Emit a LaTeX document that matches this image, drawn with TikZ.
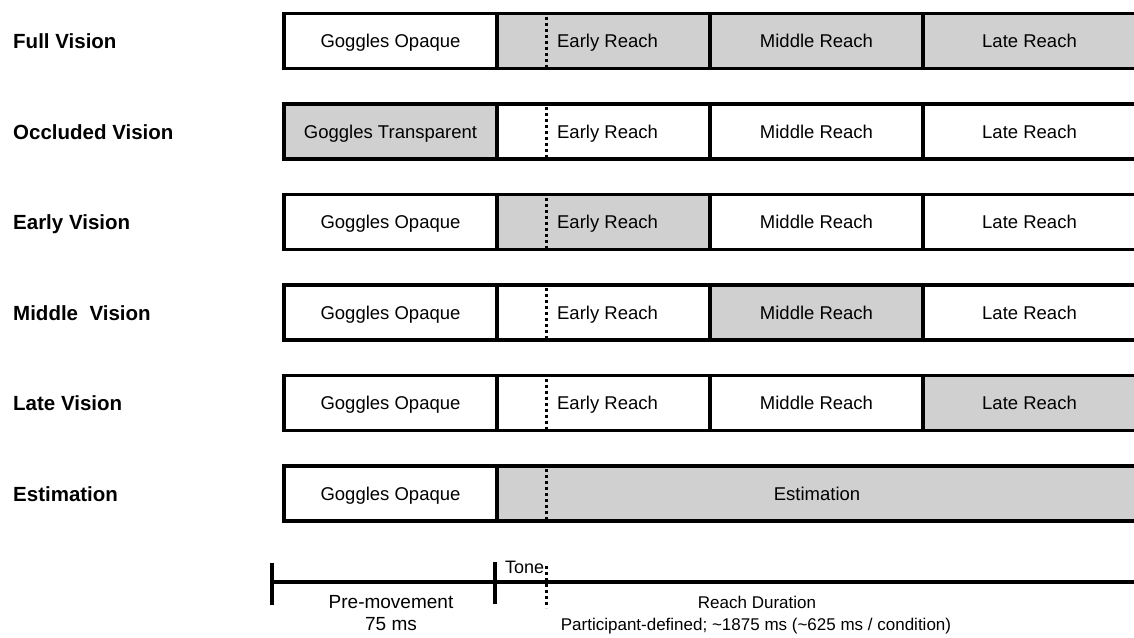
\documentclass[tikz,border=0pt]{standalone}
\usepackage{fontspec}
\setmainfont{Liberation Sans}
\definecolor{shade}{RGB}{208,208,208}
\begin{document}
\begin{tikzpicture}[x=1pt,y=-1pt,
  seg/.style={draw, line width=3.5pt, minimum width=213pt, minimum height=55pt,
    outer sep=0pt, inner sep=0pt, anchor=west, text height=13.5pt, text depth=0pt,
    font=\fontsize{18.5}{22}\selectfont},
  on/.style={seg, fill=shade},
  off/.style={seg, fill=white},
  rowlabel/.style={anchor=west, inner sep=0pt, text height=15pt, text depth=0pt,
    font=\bfseries\fontsize{20.5}{24}\selectfont},
  dotline/.style={line width=3pt, dash pattern=on 3pt off 3pt},
  axisline/.style={line width=3.5pt},
  tlabel/.style={inner sep=0pt, anchor=base, font=\fontsize{18}{22}\selectfont},
  rlabel/.style={tlabel, font=\fontsize{17}{22}\selectfont}]
\useasboundingbox (0,0) rectangle (1134,637);
\fill[white] (0,0) rectangle (1134,637);

\foreach \r/\y/\lab/\gs/\gt/\es/\ms/\ls in {
  1/41/Full Vision/off/Goggles Opaque/on/on/on,
  2/131.5/Occluded Vision/on/Goggles Transparent/off/off/off,
  3/222/Early Vision/off/Goggles Opaque/on/off/off,
  4/312.5/Middle~~Vision/off/Goggles Opaque/off/on/off,
  5/403/Late Vision/off/Goggles Opaque/off/off/on}
{
  \node[rowlabel] (lab\r) at (13,\y) {\lab};
  \node[\gs] (g\r) at (284,\y) {\gt};
  \node[\es] (e\r) at (g\r.east) {\hspace*{8pt}Early Reach};
  \node[\ms] (m\r) at (e\r.east) {Middle Reach};
  \node[\ls] (l\r) at (m\r.east) {Late Reach};
  \draw[dotline] ([xshift=49pt,yshift=-3pt]e\r.north west) -- ([xshift=49pt]e\r.south west);
}

\node[rowlabel] (lab6) at (13,493.5) {Estimation};
\node[off] (g6) at (284,493.5) {Goggles Opaque};
\node[on, minimum width=640pt] (est) at (g6.east) {Estimation};
\draw[dotline] ([xshift=49pt,yshift=-3pt]est.north west) -- ([xshift=49pt]est.south west);

% timeline
\coordinate (t0) at (272,582);
\coordinate (t1) at (495,582);
\coordinate (tE) at (1140,582);
\coordinate (tone0) at (546,566);
\coordinate (tone1) at (546,608);
\draw[axisline] (t0) -- (tE);
\draw[axisline] ([yshift=19pt]t0) -- ([yshift=-23pt]t0);
\draw[axisline] ([yshift=20pt]t1) -- ([yshift=-22pt]t1);
\draw[dotline] (tone0) -- (tone1);
\node[tlabel, anchor=base west] (tone) at (505,573) {Tone};
\node[tlabel, font=\fontsize{19}{22}\selectfont] (pre) at (391,608) {Pre-movement};
\node[tlabel, font=\fontsize{19}{22}\selectfont] (pre2) at (391,630) {75 ms};
\node[rlabel] (reach) at (757,608) {Reach Duration};
\node[rlabel] (reach2) at (756,630) {Participant-defined; \textasciitilde1875 ms (\textasciitilde625 ms / condition)};
\end{tikzpicture}
\end{document}
